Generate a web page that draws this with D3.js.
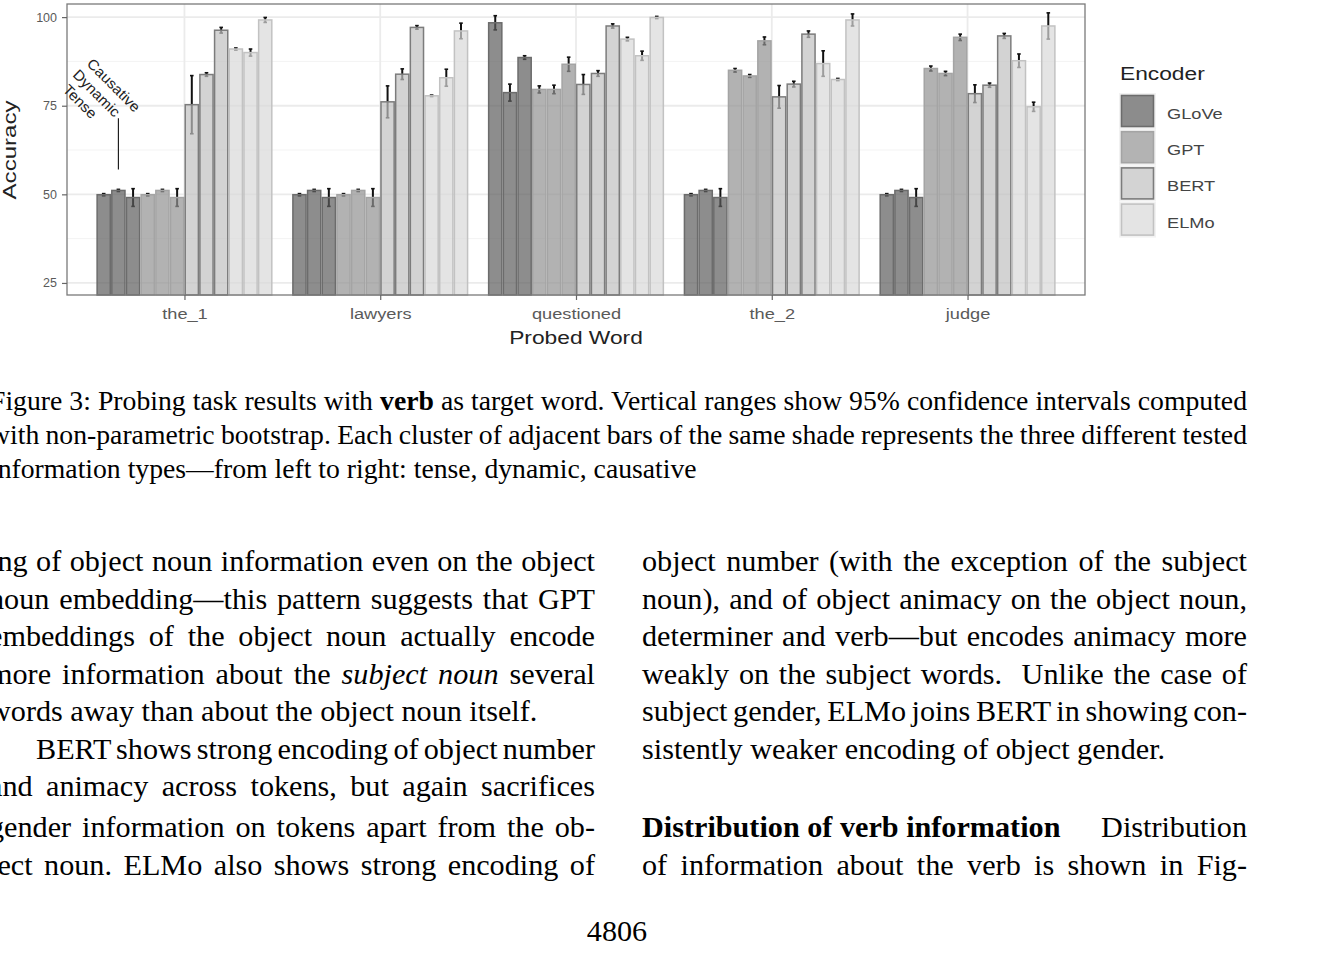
<!DOCTYPE html>
<html><head><meta charset="utf-8">
<script src="https://cdn.jsdelivr.net/npm/d3@7"></script>
<style>body{margin:0;background:#fff;overflow:hidden}svg{display:block}</style>
</head><body>
<svg id="c" width="1330" height="969"></svg>
<script>
// ---------------- DATA ----------------
const words = ["the_1", "lawyers", "questioned", "the_2", "judge"];
const encoders = ["GLoVe", "GPT", "BERT", "ELMo"];
const infoTypes = ["Tense", "Dynamic", "Causative"];
const yTicks = [25, 50, 75, 100];
// accuracy per word: [tense, dynamic, causative]
const gloveAcc = [[49.9, 51.1, 49.1], [49.9, 51.1, 49.1], [98.4, 78.7, 88.6], [49.9, 51.1, 49.1], [49.9, 51.1, 49.1]];
const gptAcc   = [[49.9, 51.1, 49.1], [49.9, 51.1, 49.1], [79.6, 79.6, 86.7], [85.0, 83.4, 93.3], [85.5, 84.1, 94.3]];
const bertAcc  = [[75.3, 83.8, 96.3], [76.1, 83.9, 97.1], [81.0, 84.1, 97.5], [77.5, 81.1, 95.2], [78.4, 80.8, 94.7]];
const elmoAcc  = [[91.0, 90.0, 99.2], [77.8, 82.9, 96.1], [93.8, 89.1, 99.9], [86.9, 82.4, 99.2], [87.7, 74.7, 97.5]];
// 95% CI half-widths
const gloveErr = [[0.3, 0.3, 2.5], [0.3, 0.3, 2.5], [2.0, 2.4, 0.5], [0.3, 0.3, 2.5], [0.3, 0.3, 2.5]];
const gptErr   = [[0.3, 0.3, 2.5], [0.3, 0.3, 2.5], [1.0, 1.2, 2.0], [0.5, 0.4, 1.1], [0.7, 0.6, 0.9]];
const bertErr  = [[8.2, 0.5, 0.8], [4.5, 1.5, 0.5], [2.8, 0.8, 0.6], [3.2, 0.8, 0.9], [2.5, 0.6, 0.7]];
const elmoErr  = [[0.3, 1.0, 0.7], [0.2, 2.4, 2.2], [0.5, 1.3, 0.3], [3.6, 0.3, 1.7], [1.9, 1.3, 3.7]];

const captionLines = [
  [["Figure 3: Probing task results with "], ["verb", "b"], [" as target word. Vertical ranges show 95% confidence intervals computed"]],
  [["with non-parametric bootstrap. Each cluster of adjacent bars of the same shade represents the three different tested"]],
  [["information types\u2014from left to right: tense, dynamic, causative"]]
];
const leftLines = [
  [["ing of object noun information even on the object"]],
  [["noun embedding\u2014this pattern suggests that GPT"]],
  [["embeddings of the object noun actually encode"]],
  [["more information about the "], ["subject noun", "i"], [" several"]],
  [["words away than about the object noun itself."]],
  [["BERT shows strong encoding of object number"]],
  [["and animacy across tokens, but again sacrifices"]],
  [["gender information on tokens apart from the ob-"]],
  [["ject noun. ELMo also shows strong encoding of"]]
];
const rightLines = [
  [["object number (with the exception of the subject"]],
  [["noun), and of object animacy on the object noun,"]],
  [["determiner and verb\u2014but encodes animacy more"]],
  [["weakly on the subject words.  Unlike the case of"]],
  [["subject gender, ELMo joins BERT in showing con-"]],
  [["sistently weaker encoding of object gender."]],
  null,
  null,
  [["of information about the verb is shown in Fig-"]]
];

// ---------------- CHART ----------------
const svg = d3.select("#c");
const P = {l: 67, r: 1085, t: 4, b: 295};
const accs = [gloveAcc, gptAcc, bertAcc, elmoAcc];
const errs = [gloveErr, gptErr, bertErr, elmoErr];
const fills = ["#5c5c5c", "#929292", "#c0c0c0", "#d8d8d8"];
const strokes = ["#6c6c6c", "#a4a4a4", "#7c7c7c", "#c2c2c2"];
const keyFills = ["#8c8c8c", "#b3b3b3", "#d3d3d3", "#e4e4e4"];

const x = d3.scalePoint().domain(words).range([P.l, P.r]).padding(0.6);
const step = x.step();
const xi = d3.scaleBand().domain(d3.range(12)).range([-0.45 * step, 0.45 * step]);
const y = d3.scaleLinear().domain([21.6, 103.7]).range([P.b, P.t]);

const bars = [];
words.forEach((w, wi) => encoders.forEach((e, ei) => infoTypes.forEach((t, ti) => {
  bars.push({w, ei, ti, idx: ei * 3 + ti, v: accs[ei][wi][ti], err: errs[ei][wi][ti]});
})));

// gridlines
const minor = [37.5, 62.5, 87.5];
svg.append("g").selectAll("line").data(minor).join("line")
  .attr("x1", P.l).attr("x2", P.r).attr("y1", d => y(d)).attr("y2", d => y(d))
  .attr("stroke", "#f3f3f3").attr("stroke-width", 1);
svg.append("g").selectAll("line").data(yTicks).join("line")
  .attr("x1", P.l).attr("x2", P.r).attr("y1", d => y(d)).attr("y2", d => y(d))
  .attr("stroke", "#ebebeb").attr("stroke-width", 1.8);
svg.append("g").selectAll("line").data(words).join("line")
  .attr("x1", d => x(d)).attr("x2", d => x(d)).attr("y1", P.t).attr("y2", P.b)
  .attr("stroke", "#ebebeb").attr("stroke-width", 1.8);

// error bars (under semi-transparent bars)
const eg = svg.append("g").attr("stroke", "#111").attr("stroke-width", 2);
bars.forEach(d => {
  const cx = x(d.w) + xi(d.idx) + xi.bandwidth() / 2;
  const y1 = y(d.v + d.err), y2 = y(d.v - d.err);
  eg.append("line").attr("x1", cx).attr("x2", cx).attr("y1", y1).attr("y2", y2);
  eg.append("line").attr("x1", cx - 1.8).attr("x2", cx + 1.8).attr("y1", y1).attr("y2", y1).attr("stroke-width", 1.6);
  eg.append("line").attr("x1", cx - 1.8).attr("x2", cx + 1.8).attr("y1", y2).attr("y2", y2).attr("stroke-width", 1.6);
});

// bars
svg.append("g").selectAll("rect").data(bars).join("rect")
  .attr("x", d => x(d.w) + xi(d.idx) + 0.75)
  .attr("width", xi.bandwidth() - 1.5)
  .attr("y", d => y(d.v))
  .attr("height", d => P.b - y(d.v))
  .attr("fill", d => fills[d.ei]).attr("fill-opacity", 0.7)
  .attr("stroke", d => strokes[d.ei]).attr("stroke-width", 1.5);

// panel border
svg.append("rect").attr("x", P.l).attr("y", P.t).attr("width", P.r - P.l).attr("height", P.b - P.t)
  .attr("fill", "none").attr("stroke", "#7a7a7a").attr("stroke-width", 1.3);

function stretch(sel, sx) {
  sel.each(function () {
    const n = this.getComputedTextLength();
    d3.select(this).attr("textLength", n * sx).attr("lengthAdjust", "spacingAndGlyphs");
  });
}

// y axis
const ya = svg.append("g").attr("transform", `translate(${P.l},0)`)
  .call(d3.axisLeft(y).tickValues(yTicks).tickSize(5).tickPadding(5));
ya.select(".domain").remove();
ya.selectAll(".tick line").attr("stroke", "#666").attr("stroke-width", 1.2);
ya.selectAll(".tick text").attr("font-family", "Liberation Sans, Arial, sans-serif").attr("font-size", 12.5).attr("fill", "#5a5a5a");

// x axis
const xa = svg.append("g").attr("transform", `translate(0,${P.b})`)
  .call(d3.axisBottom(x).tickSize(5).tickPadding(9));
xa.select(".domain").remove();
xa.selectAll(".tick line").attr("stroke", "#666").attr("stroke-width", 1.2);
xa.selectAll(".tick text").attr("font-family", "Liberation Sans, Arial, sans-serif").attr("font-size", 14).attr("fill", "#5a5a5a")
  .call(stretch, 1.3);

// axis titles
svg.append("text").attr("x", (P.l + P.r) / 2).attr("y", 344).attr("text-anchor", "middle")
  .attr("font-family", "Liberation Sans, Arial, sans-serif").attr("font-size", 17.5).attr("fill", "#222")
  .text("Probed Word").call(stretch, 1.3);
svg.append("text").attr("transform", `translate(16,150) rotate(-90)`).attr("text-anchor", "middle")
  .attr("font-family", "Liberation Sans, Arial, sans-serif").attr("font-size", 18.5).attr("fill", "#222")
  .text("Accuracy").call(stretch, 1.3);

// annotation for info types (first cluster)
const annX = x(words[0]) + xi(1) + xi.bandwidth() / 2;
svg.append("line").attr("x1", annX).attr("x2", annX).attr("y1", y(71.5)).attr("y2", y(57))
  .attr("stroke", "#111").attr("stroke-width", 1.1);
const annStart = [[62, 90.6], [72, 75.6], [86, 64.6]];
infoTypes.forEach((t, i) => {
  svg.append("text").attr("transform", `translate(${annStart[i][0]},${annStart[i][1]}) rotate(45)`)
    .attr("font-family", "Liberation Sans, Arial, sans-serif").attr("font-size", 14.5).attr("fill", "#222").text(t)
    .call(stretch, 1.06);
});

// legend
const lg = svg.append("g");
lg.append("text").attr("x", 1120).attr("y", 80).attr("font-family", "Liberation Sans, Arial, sans-serif")
  .attr("font-size", 17.5).attr("fill", "#222").text("Encoder").call(stretch, 1.3);
encoders.forEach((e, i) => {
  const ky = 93 + i * 36.2;
  lg.append("rect").attr("x", 1119).attr("y", ky).attr("width", 37).attr("height", 36).attr("fill", "#f2f2f2");
  lg.append("rect").attr("x", 1121.5).attr("y", ky + 2.5).attr("width", 32).attr("height", 31)
    .attr("fill", keyFills[i]).attr("stroke", strokes[i]).attr("stroke-width", 1.6);
  lg.append("text").attr("x", 1167).attr("y", ky + 21).attr("dy", "0.35em")
    .attr("font-family", "Liberation Sans, Arial, sans-serif").attr("font-size", 14).attr("fill", "#444")
    .text(e).call(stretch, 1.3);
});

// ---------------- PAGE TEXT ----------------
function textLine(segs, x0, yb, width, justify, size) {
  const t = svg.append("text").attr("x", x0).attr("y", yb)
    .attr("font-family", "Liberation Serif, Times New Roman, serif").attr("font-size", size).attr("fill", "#000")
    .style("white-space", "pre");
  segs.forEach(s => {
    const ts = t.append("tspan").text(s[0]);
    if (s[1] === "b") ts.attr("font-weight", "bold");
    if (s[1] === "i") ts.attr("font-style", "italic");
  });
  if (justify) {
    const n = t.node().getComputedTextLength();
    const spaces = segs.map(s => s[0]).join("").split(" ").length - 1;
    t.attr("word-spacing", (width - n) / spaces);
  }
  return t;
}
const capBase = [410, 444, 478];
captionLines.forEach((l, i) => textLine(l, -10, capBase[i], 1257, i < 2, 27.7));

const bodyBase = [571, 608.5, 646, 683.5, 721, 758.5, 796, 837, 874.5];
leftLines.forEach((l, i) => {
  const indent = i === 5 ? 47 : 0;
  textLine(l, -11 + indent, bodyBase[i], 606 - indent, i !== 4, 30.2);
});
rightLines.forEach((l, i) => {
  if (l) textLine(l, 642, bodyBase[i], 605, i !== 5, 30.2);
});
// paragraph heading line
textLine([["Distribution of verb information", "b"]], 642, bodyBase[7], 0, false, 30.2);
textLine([["Distribution"]], 1247, bodyBase[7], 0, false, 30.2).attr("text-anchor", "end");
// page number
textLine([["4806"]], 617, 941, 0, false, 30.2).attr("text-anchor", "middle");
</script>
</body></html>
